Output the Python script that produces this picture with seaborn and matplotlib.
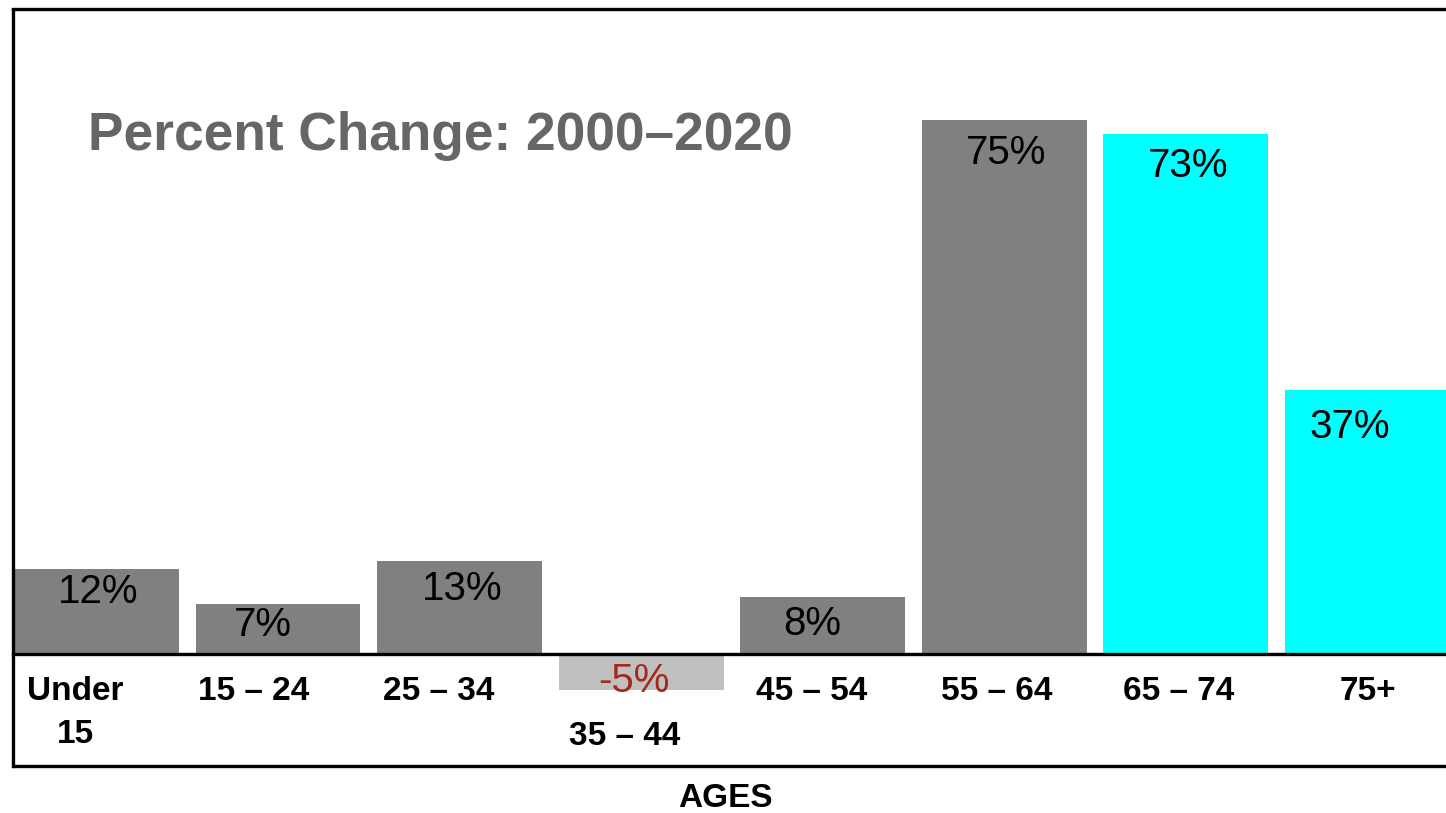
import matplotlib
matplotlib.use("Agg")
import matplotlib.pyplot as plt
import matplotlib.transforms as mtrans
import seaborn as sns

# Population change by age group, 2000 to 2020 (percent)
age_groups = ["Under 15", "15 – 24", "25 – 34", "35 – 44", "45 – 54", "55 – 64", "65 – 74", "75+"]
tick_labels = ["Under\n15", "15 – 24", "25 – 34", "35 – 44", "45 – 54", "55 – 64", "65 – 74", "75+"]
pct_change = [12, 7, 13, -5, 8, 75, 73, 37]
bar_colors = ["#808080", "#808080", "#808080", "#C0C0C0", "#808080", "#808080", "#00FFFF", "#00FFFF"]
title_text = "Percent Change: 2000–2020"
axis_title = "AGES"

# Fine placement of the in-bar value labels (pixels: horizontal shift, depth below bar end)
value_dx = [1.5, -15, 3, -7, -10, 2, 3, -17]
value_depth = [20, 17.5, 25, 24, 24, 30, 28.5, 34]
# Horizontal shift of the category labels (pixels)
tick_dx = [-21, -24, -21, -16, -11, -7, -7, 1]
line_pitch = 45  # pixels between category label lines

sns.set_theme(style="white")
plt.rcParams["font.family"] = ["Liberation Sans", "DejaVu Sans"]

W, H, DPI = 1446, 813, 100
fig = plt.figure(figsize=(W / DPI, H / DPI), dpi=DPI)
fig.patch.set_facecolor("white")

ax_left, ax_right, ax_top, ax_bottom = 13, 1446, 9.5, 766
ax = fig.add_axes([ax_left / W, 1 - ax_bottom / H, (ax_right - ax_left) / W, (ax_bottom - ax_top) / H])
ax.set_facecolor("white")

sns.barplot(x=age_groups, y=pct_change, hue=age_groups, palette=bar_colors, legend=False,
            width=0.909, saturation=1, linewidth=0, ax=ax)

ax.set_xlim(-0.46, 7.435)
ax.set_ylim(-15.73, 90.5)

# Frame: left and top spines, zero baseline as the bottom spine, closing line below
lw = 2.4
for side in ["left", "top"]:
    ax.spines[side].set_visible(True)
    ax.spines[side].set_color("black")
    ax.spines[side].set_linewidth(lw)
ax.spines["right"].set_visible(False)
ax.spines["bottom"].set_position(("data", 0))
ax.spines["bottom"].set_color("black")
ax.spines["bottom"].set_linewidth(lw)
ax.spines["bottom"].set_zorder(3)
ax.plot([0, 1], [0, 0], transform=ax.transAxes, color="black", lw=lw, clip_on=False, zorder=3)

ax.set_yticks([])
ax.set_ylabel("")
ax.tick_params(axis="x", length=0, pad=16, labelsize=24)
ax.set_xticks(range(len(age_groups)))
ax.set_xticklabels(tick_labels, fontweight="bold", color="black", linespacing=1.48)
for lab, dx, v in zip(ax.get_xticklabels(), tick_dx, pct_change):
    lab.set_multialignment("center")
    dy = -line_pitch if v < 0 else 0  # drop below a bar that hangs under the baseline
    lab.set_transform(lab.get_transform() +
                      mtrans.ScaledTranslation(dx / DPI, dy / DPI, fig.dpi_scale_trans))

ax.set_xlabel(axis_title, fontsize=24, fontweight="bold", color="black")
ax.xaxis.set_label_coords(0.497, -0.023)

# Value labels inside each bar
px = 72 / DPI
cap_half = 14
for i, (v, dx, depth) in enumerate(zip(pct_change, value_dx, value_depth)):
    color = "#A3291C" if v < 0 else "black"
    ax.annotate(f"{v}%", xy=(i, max(v, 0)), xytext=(dx * px, -(depth + cap_half) * px),
                textcoords="offset points", ha="center", va="baseline",
                fontsize=29, color=color, zorder=4)

fig.text(88 / W, 1 - 150 / H, title_text, ha="left", va="baseline",
         fontsize=38.3, fontweight="bold", color="#666666")

fig.savefig("out.png", dpi=DPI, facecolor="white")
